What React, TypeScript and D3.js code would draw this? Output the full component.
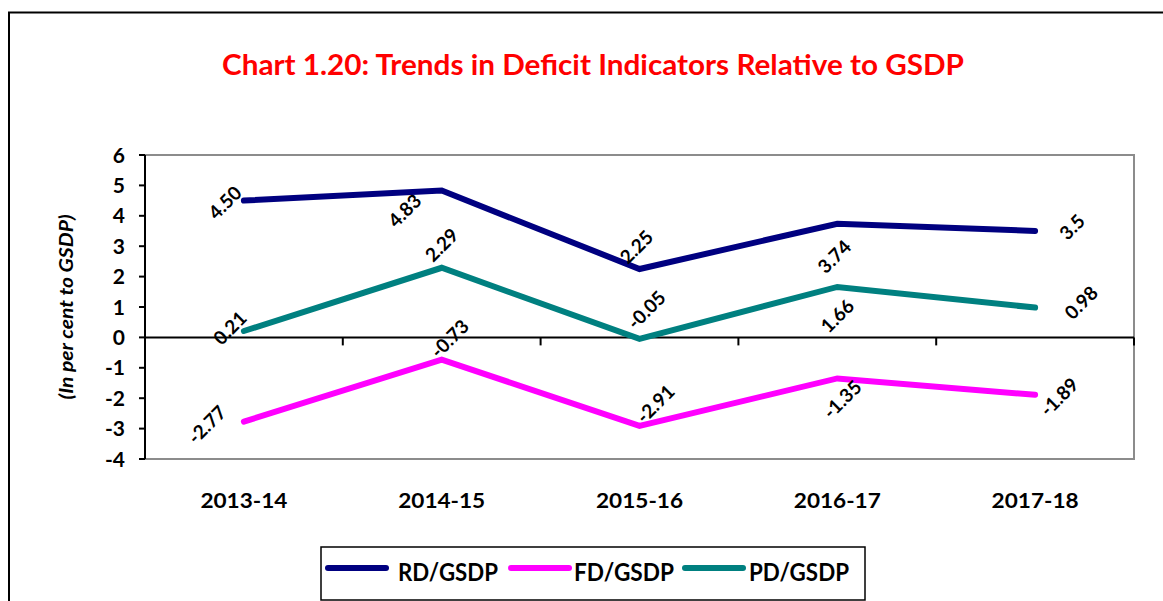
import React from "react";
import * as d3 from "d3";

const categories = ["2013-14", "2014-15", "2015-16", "2016-17", "2017-18"];
const rdValues = [4.5, 4.83, 2.25, 3.74, 3.5];
const fdValues = [-2.77, -0.73, -2.91, -1.35, -1.89];
const pdValues = [0.21, 2.29, -0.05, 1.66, 0.98];
const rdLabels = ["4.50", "4.83", "2.25", "3.74", "3.5"];
const fdLabels = ["-2.77", "-0.73", "-2.91", "-1.35", "-1.89"];
const pdLabels = ["0.21", "2.29", "-0.05", "1.66", "0.98"];
const yTicks = [6, 5, 4, 3, 2, 1, 0, -1, -2, -3, -4];
const seriesNames = ["RD/GSDP", "FD/GSDP", "PD/GSDP"];

// label layout (offset of label centre from its point)
const rdOffsets: [number, number][] = [[-19, 2], [-37, 20], [-3, -22], [-3, 33], [37, -4]];
const fdOffsets: [number, number][] = [[-37, 3], [8, -21], [16, -22], [5, 21], [24, 2]];
const pdOffsets: [number, number][] = [[-14, -3], [0, -23], [7, -29], [0, 29], [46, -5]];

const FONT = "Lato, 'Open Sans', sans-serif";

export default function App() {
  const W = 1163, H = 601;
  const left = 145, right = 1134, top = 155, bottom = 459;
  const x = d3.scaleBand<string>().domain(categories).range([left, right]);
  const y = d3.scaleLinear().domain([-4, 6]).range([bottom, top]);
  const cx = (c: string) => (x(c) as number) + x.bandwidth() / 2;

  const series = [
    { name: seriesNames[0], values: rdValues, labels: rdLabels, offsets: rdOffsets, color: "#000080" },
    { name: seriesNames[1], values: fdValues, labels: fdLabels, offsets: fdOffsets, color: "#FF00FF" },
    { name: seriesNames[2], values: pdValues, labels: pdLabels, offsets: pdOffsets, color: "#008080" },
  ];

  const line = d3
    .line<number>()
    .x((_, i) => cx(categories[i]))
    .y((d) => y(d));

  const boundaries = categories.map((c) => x(c) as number).concat([right]);

  const legendItems = [
    { lx: 328, tx: 398 },
    { lx: 511, tx: 574 },
    { lx: 685, tx: 749 },
  ];

  return (
    <svg width={W} height={H} style={{ position: "absolute", left: 0, top: 0, background: "#fff" }}>
      <rect x={0} y={0} width={W} height={H} fill="#fff" />
      {/* outer frame */}
      <path d={`M9,${H + 5} L9,12.5 L${W + 5},12.5`} fill="none" stroke="#000" strokeWidth={2} />
      {/* title */}
      <text
        x={222}
        y={75}
        fill="#FF0000"
        fontFamily={FONT}
        fontWeight="bold"
        fontSize={28}
        textLength={742}
        lengthAdjust="spacingAndGlyphs"
      >
        Chart 1.20: Trends in Deficit Indicators Relative to GSDP
      </text>

      {/* plot area border */}
      <rect x={left} y={top} width={right - left} height={bottom - top} fill="none" stroke="#8c8c8c" strokeWidth={2} />
      {/* y axis */}
      <line x1={left} x2={left} y1={top} y2={bottom} stroke="#000" strokeWidth={2} />
      {yTicks.map((t) => (
        <g key={t}>
          <line x1={left - 6} x2={left} y1={y(t)} y2={y(t)} stroke="#000" strokeWidth={2} />
          <text
            x={125}
            y={y(t)}
            dy="0.36em"
            textAnchor="end"
            fontFamily={FONT}
            fontWeight="bold"
            fontSize={21}
            fill="#000"
          >
            {t}
          </text>
        </g>
      ))}
      {/* zero line with category ticks */}
      <line x1={left} x2={right} y1={y(0)} y2={y(0)} stroke="#000" strokeWidth={2} />
      {boundaries.map((b, i) => (
        <line key={i} x1={b} x2={b} y1={y(0)} y2={y(0) + 8} stroke="#000" strokeWidth={2} />
      ))}
      {/* category labels */}
      {categories.map((c) => (
        <text
          key={c}
          x={cx(c)}
          y={508}
          textAnchor="middle"
          fontFamily={FONT}
          fontWeight="bold"
          fontSize={21}
          textLength={87}
          lengthAdjust="spacingAndGlyphs"
          fill="#000"
        >
          {c}
        </text>
      ))}
      {/* y axis title */}
      <text
        transform={`translate(73,307) rotate(-90)`}
        textAnchor="middle"
        fontFamily={FONT}
        fontWeight="bold"
        fontStyle="italic"
        fontSize={19}
        textLength={185}
        lengthAdjust="spacingAndGlyphs"
        fill="#000"
      >
        (In per cent to GSDP)
      </text>

      {/* lines */}
      {series.map((s) => (
        <path
          key={s.name}
          d={line(s.values) as string}
          fill="none"
          stroke={s.color}
          strokeWidth={6}
          strokeLinecap="round"
          strokeLinejoin="miter"
        />
      ))}
      {/* data labels */}
      {series.map((s) =>
        s.values.map((v, i) => {
          const px = cx(categories[i]) + s.offsets[i][0];
          const py = y(v) + s.offsets[i][1];
          return (
            <text
              key={s.name + i}
              transform={`translate(${px},${py}) rotate(-45)`}
              textAnchor="middle"
              dy="0.36em"
              fontFamily={FONT}
              fontWeight="bold"
              fontSize={19}
              fill="#000"
            >
              {s.labels[i]}
            </text>
          );
        })
      )}

      {/* legend */}
      <rect x={321} y={547} width={544} height={53} fill="#fff" stroke="#000" strokeWidth={1.5} />
      {series.map((s, i) => (
        <g key={s.name}>
          <line
            x1={legendItems[i].lx}
            x2={legendItems[i].lx + 58}
            y1={568}
            y2={568}
            stroke={s.color}
            strokeWidth={6}
            strokeLinecap="round"
          />
          <text
            x={legendItems[i].tx}
            y={581}
            fontFamily={FONT}
            fontWeight="bold"
            fontSize={25}
            textLength={100}
            lengthAdjust="spacingAndGlyphs"
            fill="#000"
          >
            {s.name}
          </text>
        </g>
      ))}
    </svg>
  );
}
